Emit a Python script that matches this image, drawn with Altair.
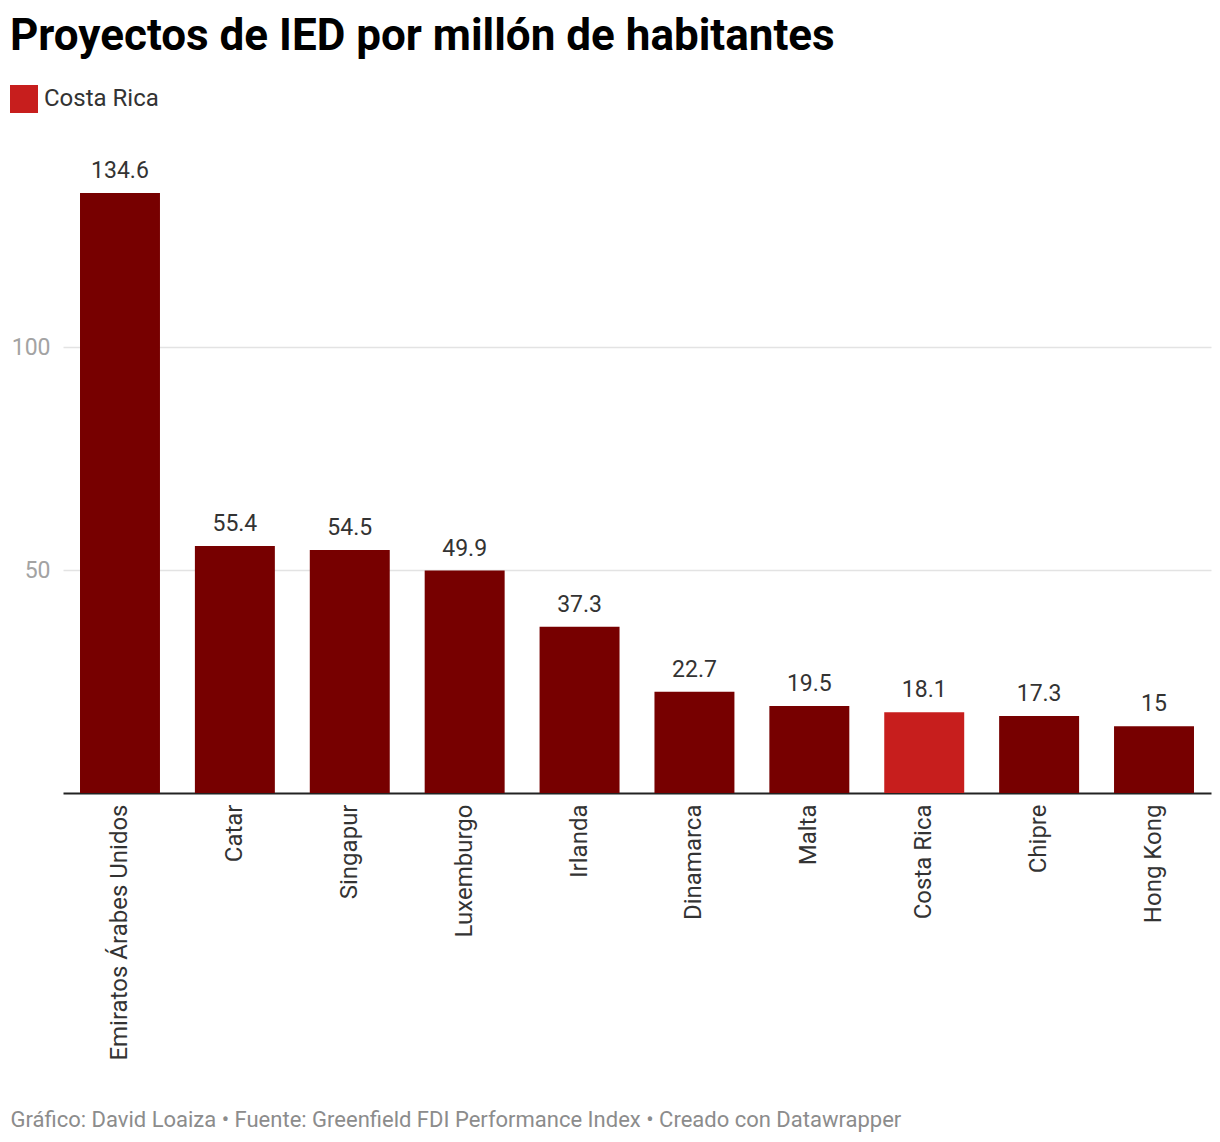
import altair as alt
import pandas as pd

paises = ["Emiratos Árabes Unidos", "Catar", "Singapur", "Luxemburgo", "Irlanda",
          "Dinamarca", "Malta", "Costa Rica", "Chipre", "Hong Kong"]
valores = [134.6, 55.4, 54.5, 49.9, 37.3, 22.7, 19.5, 18.1, 17.3, 15]
grupo = ["Otros", "Otros", "Otros", "Otros", "Otros",
         "Otros", "Otros", "Costa Rica", "Otros", "Otros"]
etiquetas = ["134.6", "55.4", "54.5", "49.9", "37.3", "22.7", "19.5", "18.1", "17.3", "15"]

df = pd.DataFrame({"pais": paises, "valor": valores, "grupo": grupo, "etiqueta": etiquetas})

FONT = "Roboto"

x = alt.X("pais:N", sort=paises,
          scale=alt.Scale(paddingInner=0.304, paddingOuter=0.148),
          axis=alt.Axis(title="Gráfico: David Loaiza • Fuente: Greenfield FDI Performance Index • Creado con Datawrapper",
                        titleX=-53, titleY=333, titleAlign="left", titleBaseline="alphabetic",
                        titleFont=FONT, titleFontSize=22, titleFontWeight="normal", titleColor="#8c8c8c",
                        labelAngle=270, labelFont=FONT, labelFontSize=24, labelColor="#333333",
                        labelPadding=11, ticks=False, domainColor="#222222", domainWidth=2,
                        grid=False, labelLimit=400))

y = alt.Y("valor:Q", scale=alt.Scale(domain=[0, 140], nice=False),
          axis=alt.Axis(title=None, values=[50, 100], labelFont=FONT, labelFontSize=23,
                        labelColor="#a3a3a3", labelPadding=13, ticks=False, domain=False,
                        gridColor="#e3e3e3", gridWidth=1.5))

bars = alt.Chart(df).mark_bar().encode(
    x=x, y=y,
    color=alt.Color("grupo:N",
                    scale=alt.Scale(domain=["Costa Rica", "Otros"], range=["#c71e1d", "#770000"]),
                    legend=alt.Legend(values=["Costa Rica"], title=None, orient="none",
                                      legendX=-53, legendY=-84, symbolType="square",
                                      symbolSize=784, symbolStrokeWidth=0, symbolOpacity=1,
                                      labelFont=FONT, labelFontSize=24, labelColor="#333333",
                                      labelOffset=6))
)

labels = alt.Chart(df).mark_text(font=FONT, fontSize=23, color="#333333",
                                 baseline="alphabetic", dy=-15).encode(
    x=alt.X("pais:N", sort=paises), y=alt.Y("valor:Q"), text="etiqueta:N")

chart = alt.layer(bars, labels).properties(
    width=1148, height=624,
    background="white",
    title=alt.TitleParams("Proyectos de IED por millón de habitantes", anchor="start",
                          font=FONT, fontSize=44, fontWeight="bold", color="#000000",
                          dx=0, offset=26),
    padding={"left": 63, "top": 169, "right": 9, "bottom": 349},
    autosize=alt.AutoSizeParams(type="none"),
).configure_view(strokeWidth=0)

chart.save("out.html", embed_options={"renderer": "svg", "actions": False})
